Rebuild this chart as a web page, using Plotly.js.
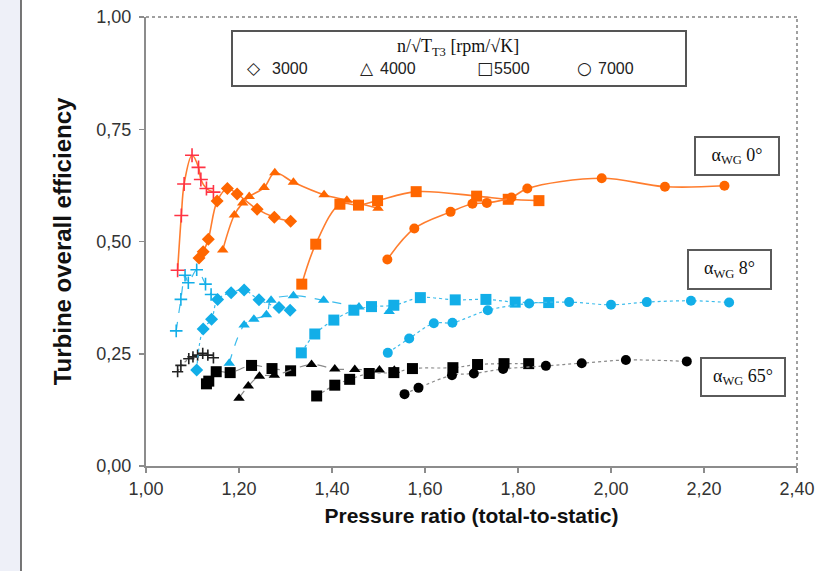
<!DOCTYPE html>
<html>
<head>
<meta charset="utf-8">
<script src="https://cdn.plot.ly/plotly-3.0.1.min.js"></script>
<style>
  html, body { margin: 0; padding: 0; background: #ffffff; }
  #chart { width: 834px; height: 571px; }
</style>
</head>
<body>
<div id="chart"></div>
<script>
// Pressure ratio (total-to-static) and overall efficiency, wastegate fully closed (0°)
const wg0CrossPR = [1.068, 1.076, 1.082, 1.099, 1.113, 1.118, 1.130, 1.145];
const wg0CrossEff = [0.436, 0.558, 0.628, 0.692, 0.665, 0.638, 0.618, 0.610];
const wg0N3000PR = [1.114, 1.123, 1.134, 1.153, 1.175, 1.196, 1.239, 1.276, 1.311];
const wg0N3000Eff = [0.463, 0.477, 0.505, 0.590, 0.618, 0.606, 0.572, 0.554, 0.545];
const wg0N4000PR = [1.165, 1.190, 1.208, 1.222, 1.254, 1.277, 1.317, 1.383, 1.432, 1.499];
const wg0N4000Eff = [0.481, 0.559, 0.586, 0.600, 0.620, 0.653, 0.632, 0.604, 0.592, 0.574];
const wg0N5500PR = [1.335, 1.365, 1.417, 1.457, 1.498, 1.581, 1.711, 1.779, 1.845];
const wg0N5500Eff = [0.405, 0.494, 0.583, 0.581, 0.591, 0.611, 0.601, 0.594, 0.591];
const wg0N7000PR = [1.519, 1.577, 1.655, 1.702, 1.733, 1.786, 1.820, 1.980, 2.116, 2.244];
const wg0N7000Eff = [0.460, 0.529, 0.566, 0.584, 0.586, 0.598, 0.618, 0.641, 0.622, 0.624];

// Wastegate opening 8°
const wg8CrossPR = [1.065, 1.075, 1.084, 1.091, 1.109, 1.128, 1.140];
const wg8CrossEff = [0.301, 0.371, 0.425, 0.408, 0.437, 0.405, 0.382];
const wg8N3000PR = [1.109, 1.123, 1.141, 1.154, 1.183, 1.211, 1.243, 1.286, 1.310];
const wg8N3000Eff = [0.214, 0.305, 0.327, 0.371, 0.386, 0.392, 0.370, 0.353, 0.347];
const wg8N4000PR = [1.179, 1.211, 1.232, 1.259, 1.269, 1.317, 1.382, 1.458, 1.523];
const wg8N4000Eff = [0.229, 0.314, 0.327, 0.337, 0.369, 0.379, 0.369, 0.354, 0.344];
const wg8N5500PR = [1.334, 1.363, 1.404, 1.447, 1.485, 1.533, 1.590, 1.665, 1.731, 1.794, 1.866];
const wg8N5500Eff = [0.252, 0.294, 0.325, 0.347, 0.355, 0.358, 0.375, 0.370, 0.371, 0.365, 0.364];
const wg8N7000PR = [1.520, 1.566, 1.619, 1.659, 1.735, 1.824, 1.910, 2.000, 2.077, 2.172, 2.254];
const wg8N7000Eff = [0.252, 0.284, 0.318, 0.319, 0.347, 0.362, 0.365, 0.359, 0.365, 0.368, 0.364];

// Wastegate opening 65°
const wg65CrossPR = [1.068, 1.075, 1.092, 1.101, 1.111, 1.122, 1.133, 1.145];
const wg65CrossEff = [0.210, 0.224, 0.239, 0.243, 0.247, 0.251, 0.247, 0.241];
const wg65N3000PR = [1.130, 1.135, 1.151, 1.181, 1.227, 1.271, 1.311];
const wg65N3000Eff = [0.183, 0.189, 0.210, 0.208, 0.224, 0.217, 0.212];
const wg65N4000PR = [1.200, 1.220, 1.244, 1.276, 1.356, 1.406, 1.449, 1.502, 1.534];
const wg65N4000Eff = [0.151, 0.178, 0.200, 0.202, 0.226, 0.216, 0.215, 0.214, 0.213];
const wg65N5500PR = [1.367, 1.406, 1.438, 1.480, 1.533, 1.573, 1.660, 1.713, 1.770, 1.823];
const wg65N5500Eff = [0.156, 0.180, 0.193, 0.206, 0.208, 0.217, 0.219, 0.226, 0.228, 0.228];
const wg65N7000PR = [1.556, 1.586, 1.658, 1.705, 1.768, 1.860, 1.937, 2.032, 2.163];
const wg65N7000Eff = [0.160, 0.174, 0.202, 0.206, 0.216, 0.223, 0.229, 0.236, 0.233];

// Axis ticks and labels
const xTicks = [1.0, 1.2, 1.4, 1.6, 1.8, 2.0, 2.2, 2.4];
const yTicks = [0.0, 0.25, 0.5, 0.75, 1.0];
const speedLabels = ['3000', '4000', '5500', '7000'];
const wgLabels = ['0°', '8°', '65°'];

const ORANGE = '#ff6600', ORANGE_LINE = '#ff7d2e', RED = '#ff3344';
const BLUE = '#12aee8', BLUE_LINE = '#3cbcec';
const BLACK = '#000000', GREY_LINE = '#8a8a8a';

function series(x, y, symbol, mColor, lColor, dash, size, shape) {
  const open = symbol.indexOf('cross') === 0;
  const defSize = symbol === 'square' ? 11 : 10;
  return {
    type: 'scatter', mode: 'lines+markers', x: x, y: y, showlegend: false,
    line: { color: lColor, width: dash === 'solid' ? 1.6 : 1.2, dash: dash, shape: shape || 'spline', smoothing: 1 },
    marker: open
      ? { symbol: symbol, size: size || 9, color: mColor, line: { color: mColor, width: 1.6 } }
      : { symbol: symbol, size: size || defSize, color: mColor, line: { width: 0 } }
  };
}

const data = [
  // 65°
  series(wg65CrossPR, wg65CrossEff, 'cross-thin-open', '#222', GREY_LINE, 'dot', 8, 'linear'),
  series(wg65N3000PR, wg65N3000Eff, 'square', BLACK, GREY_LINE, 'dash'),
  series(wg65N4000PR, wg65N4000Eff, 'triangle-up', BLACK, GREY_LINE, 'dash'),
  series(wg65N5500PR, wg65N5500Eff, 'square', BLACK, GREY_LINE, 'dot'),
  series(wg65N7000PR, wg65N7000Eff, 'circle', BLACK, GREY_LINE, 'dot'),
  // 8°
  series(wg8CrossPR, wg8CrossEff, 'cross-thin-open', BLUE, BLUE_LINE, 'dash', 9),
  series(wg8N3000PR, wg8N3000Eff, 'diamond', BLUE, BLUE_LINE, 'dot'),
  series(wg8N4000PR, wg8N4000Eff, 'triangle-up', BLUE, BLUE_LINE, 'dash'),
  series(wg8N5500PR, wg8N5500Eff, 'square', BLUE, BLUE_LINE, 'dot'),
  series(wg8N7000PR, wg8N7000Eff, 'circle', BLUE, BLUE_LINE, 'dot'),
  // 0°
  series(wg0CrossPR, wg0CrossEff, 'cross-thin-open', RED, ORANGE_LINE, 'solid', 10),
  series(wg0N3000PR, wg0N3000Eff, 'diamond', ORANGE, ORANGE_LINE, 'solid'),
  series(wg0N4000PR, wg0N4000Eff, 'triangle-up', ORANGE, ORANGE_LINE, 'solid'),
  series(wg0N5500PR, wg0N5500Eff, 'square', ORANGE, ORANGE_LINE, 'solid'),
  series(wg0N7000PR, wg0N7000Eff, 'circle', ORANGE, ORANGE_LINE, 'solid')
];

// pixel -> paper helpers for the 834x571 canvas (plot area 146..797 x 17..466)
const px = v => (v - 146) / 651;
const py = v => (466 - v) / 449;

const sans = '"Liberation Sans", Arial, sans-serif';
const serif = '"Liberation Serif", "DejaVu Serif", serif';

const wgBox = (label, left, top, w, h) => ({
  xref: 'paper', yref: 'paper', x: px(left), y: py(top), xanchor: 'left', yanchor: 'top',
  text: 'α<sub>WG</sub> ' + label, showarrow: false, align: 'center',
  width: w, height: h, borderpad: 0, borderwidth: 2, bordercolor: '#5a5a5a', bgcolor: '#ffffff',
  font: { family: serif, size: 18, color: '#111' }
});

const legendSym = (sym, x) => ({
  xref: 'paper', yref: 'paper', x: px(x), y: py(68), xanchor: 'center', yanchor: 'middle',
  text: sym, showarrow: false, font: { family: '"DejaVu Sans", sans-serif', size: 17, color: '#222' }
});
const legendTxt = (t, x) => ({
  xref: 'paper', yref: 'paper', x: px(x), y: py(68), xanchor: 'left', yanchor: 'middle',
  text: t, showarrow: false, font: { family: sans, size: 16, color: '#222' }
});

const layout = {
  width: 834, height: 571,
  margin: { l: 146, r: 37, t: 17, b: 105, pad: 0 },
  paper_bgcolor: '#ffffff', plot_bgcolor: '#ffffff',
  separators: ', ',
  showlegend: false,
  xaxis: {
    range: [1.0, 2.4], tickvals: xTicks, tickformat: '.2f',
    ticks: 'outside', ticklen: 5, tickwidth: 1.5, tickcolor: '#8c8c8c',
    showline: true, linecolor: '#8c8c8c', linewidth: 2,
    showgrid: false, zeroline: false,
    tickfont: { family: sans, size: 18, color: '#333' },
    title: { text: 'Pressure ratio (total-to-static)', standoff: 11,
             font: { family: sans, size: 21, color: '#111', weight: 'bold' } }
  },
  yaxis: {
    range: [0, 1.0], tickvals: yTicks, tickformat: '.2f',
    ticks: 'outside', ticklen: 5, tickwidth: 1.5, tickcolor: '#8c8c8c',
    showline: true, linecolor: '#8c8c8c', linewidth: 2,
    showgrid: false, zeroline: false, ticklabelstandoff: 4,
    tickfont: { family: sans, size: 18, color: '#333' },
    title: { text: 'Turbine overall efficiency', standoff: 18,
             font: { family: sans, size: 24, color: '#111', weight: 'bold' } }
  },
  shapes: [
    // left page strip
    { type: 'rect', xref: 'paper', yref: 'paper', x0: px(0), x1: px(21), y0: py(571), y1: py(0),
      fillcolor: '#eef0f8', line: { width: 0 }, layer: 'below' },
    { type: 'line', xref: 'paper', yref: 'paper', x0: px(21), x1: px(21), y0: py(571), y1: py(0),
      line: { color: '#4a4a4a', width: 1.5 } },
    // top and right frame of the plot area
    { type: 'line', xref: 'paper', yref: 'paper', x0: 0, x1: 1, y0: 1, y1: 1,
      line: { color: '#a0a0a0', width: 2, dash: 'dot' } },
    { type: 'line', xref: 'paper', yref: 'paper', x0: 1, x1: 1, y0: 0, y1: 1,
      line: { color: '#a0a0a0', width: 2, dash: 'dot' } },
    // speed key box
    { type: 'rect', xref: 'paper', yref: 'paper', x0: px(232), x1: px(686), y0: py(86), y1: py(31),
      fillcolor: '#ffffff', line: { color: '#555555', width: 2 } }
  ],
  annotations: [
    { xref: 'paper', yref: 'paper', x: px(458), y: py(47), xanchor: 'center', yanchor: 'middle',
      text: 'n/√T<sub>T3</sub> [rpm/√K]', showarrow: false, font: { family: serif, size: 18, color: '#111' } },
    legendSym('◇', 254), legendTxt(speedLabels[0], 270),
    legendSym('△', 367), legendTxt(speedLabels[1], 378),
    legendSym('□', 485), legendTxt(speedLabels[2], 492),
    legendSym('○', 584), legendTxt(speedLabels[3], 596),
    wgBox(wgLabels[0], 694, 136, 82, 36),
    wgBox(wgLabels[1], 687, 249, 81, 37),
    wgBox(wgLabels[2], 700, 357, 82, 36)
  ]
};

Plotly.newPlot('chart', data, layout, { staticPlot: true, displayModeBar: false });
</script>
</body>
</html>
